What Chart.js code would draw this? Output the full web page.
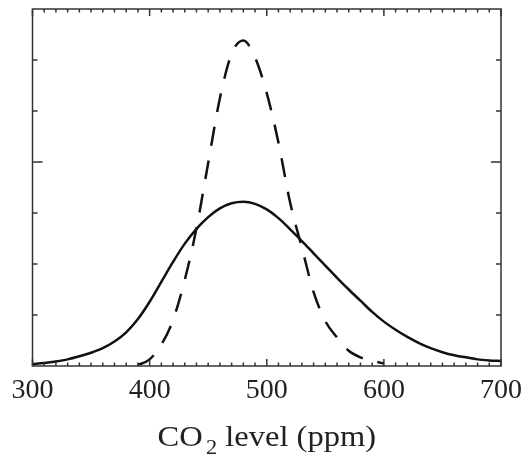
<!DOCTYPE html>
<html>
<head>
<meta charset="utf-8">
<title>CO2 level</title>
<script src="https://cdn.jsdelivr.net/npm/chart.js@4.4.1/dist/chart.umd.min.js"></script>
<style>
  html, body { margin: 0; padding: 0; background: #fff; }
  #wrap { width: 526px; height: 454px; position: relative; }
</style>
</head>
<body>
<div id="wrap"><canvas id="chart"></canvas></div>
<script>
  // CO2 levels (ppm) for the wide curve, every 10 ppm
  const solidLevels = [300, 310, 320, 330, 340, 350, 360, 370, 380, 390, 400, 410, 420, 430, 440, 450,
    460, 470, 480, 490, 500, 510, 520, 530, 540, 550, 560, 570, 580, 590, 600, 610, 620, 630, 640,
    650, 660, 670, 680, 690, 700];
  const solidValues = [0.04, 0.06, 0.09, 0.13, 0.19, 0.26, 0.35, 0.48, 0.66, 0.92, 1.26, 1.65, 2.04, 2.40,
    2.69, 2.92, 3.09, 3.19, 3.22, 3.18, 3.07, 2.90, 2.68, 2.45, 2.21, 1.97, 1.73, 1.50, 1.28, 1.06,
    0.87, 0.71, 0.57, 0.45, 0.35, 0.27, 0.21, 0.17, 0.13, 0.11, 0.10];

  // narrow (dashed) curve
  const dashedLevels = [390, 400, 410, 420, 430, 440, 450, 460, 470, 480, 490, 500, 510, 520, 530, 540,
    550, 560, 570, 580, 590, 600];
  const dashedValues = [0.02, 0.13, 0.42, 0.90, 1.69, 2.70, 3.98, 5.25, 6.12, 6.38, 6.05, 5.35, 4.38,
    3.20, 2.32, 1.45, 0.88, 0.56, 0.30, 0.17, 0.10, 0.05];

  // axis ticks
  const xTickLabels = [300, 400, 500, 600, 700];
  const xMinorStep = 10;
  const yTickValues = [1, 2, 3, 4, 5, 6];

  const serif = '"Liberation Serif", "DejaVu Serif", serif';
  const ink = '#111';

  // frame + inward tick marks on all four sides
  const frameTicks = {
    id: 'frameTicks',
    afterDraw(chart) {
      const ctx = chart.ctx;
      const a = chart.chartArea;
      const xs = chart.scales.x;
      const ys = chart.scales.y;
      ctx.save();
      ctx.strokeStyle = '#333';
      ctx.lineWidth = 1.5;
      ctx.beginPath();
      for (let v = xs.min; v <= xs.max; v += xMinorStep) {
        const px = xs.getPixelForValue(v);
        const len = xTickLabels.includes(v) ? 7 : 3.5;
        ctx.moveTo(px, a.bottom);
        ctx.lineTo(px, a.bottom - len);
        ctx.moveTo(px, a.top);
        ctx.lineTo(px, a.top + len);
      }
      yTickValues.forEach(v => {
        const py = ys.getPixelForValue(v);
        const len = v === 4 ? 10 : 5;
        ctx.moveTo(a.left, py);
        ctx.lineTo(a.left + len, py);
        ctx.moveTo(a.right, py);
        ctx.lineTo(a.right - len, py);
      });
      ctx.stroke();
      ctx.strokeRect(a.left, a.top, a.right - a.left, a.bottom - a.top);
      ctx.restore();
    }
  };

  // axis title with subscript
  const axisTitle = {
    id: 'axisTitle',
    afterDraw(chart) {
      const ctx = chart.ctx;
      const a = chart.chartArea;
      ctx.save();
      ctx.fillStyle = '#222';
      ctx.textBaseline = 'alphabetic';
      ctx.textAlign = 'left';
      const big = '29px ' + serif;
      const small = '20px ' + serif;
      ctx.font = big;
      const w1 = ctx.measureText('CO').width;
      const w3 = ctx.measureText(' level (ppm)').width;
      ctx.font = small;
      const w2 = ctx.measureText('2').width;
      const sx = 1.12;
      const total = (w1 + 3 + w2 + w3) * sx;
      const cx = (a.left + a.right) / 2;
      ctx.translate(cx - total / 2, 446);
      ctx.scale(sx, 1);
      ctx.font = big;
      ctx.fillText('CO', 0, 0);
      ctx.font = small;
      ctx.fillText('2', w1 + 3, 8);
      ctx.font = big;
      ctx.fillText(' level (ppm)', w1 + 3 + w2, 0);
      ctx.restore();
    }
  };

  new Chart(document.getElementById('chart'), {
    type: 'line',
    data: {
      datasets: [
        {
          data: solidLevels.map((x, i) => ({ x: x, y: solidValues[i] })),
          borderColor: ink,
          borderWidth: 2.5,
          pointRadius: 0,
          cubicInterpolationMode: 'monotone',
          fill: false
        },
        {
          data: dashedLevels.map((x, i) => ({ x: x, y: dashedValues[i] })),
          borderColor: ink,
          borderWidth: 2.5,
          borderDash: [19, 15],
          pointRadius: 0,
          cubicInterpolationMode: 'monotone',
          fill: false
        }
      ]
    },
    options: {
      responsive: true,
      maintainAspectRatio: false,
      animation: false,
      layout: { padding: { top: 9, right: 25, left: 0, bottom: 0 } },
      plugins: {
        legend: { display: false },
        tooltip: { enabled: false }
      },
      scales: {
        x: {
          type: 'linear',
          min: 300,
          max: 700,
          grid: { display: false, drawTicks: false },
          border: { display: false },
          afterFit(scale) {
            scale.height = 88;
            scale.paddingLeft = 0;
            scale.paddingRight = 0;
          },
          ticks: {
            stepSize: 100,
            padding: 8,
            color: '#222',
            font: { family: serif, size: 28 },
            callback: v => (xTickLabels.includes(v) ? String(v) : '')
          }
        },
        y: {
          min: 0,
          max: 7,
          grid: { display: false, drawTicks: false },
          border: { display: false },
          ticks: { display: false },
          afterFit(scale) { scale.width = 32.5; }
        }
      }
    },
    plugins: [frameTicks, axisTitle]
  });
</script>
</body>
</html>
